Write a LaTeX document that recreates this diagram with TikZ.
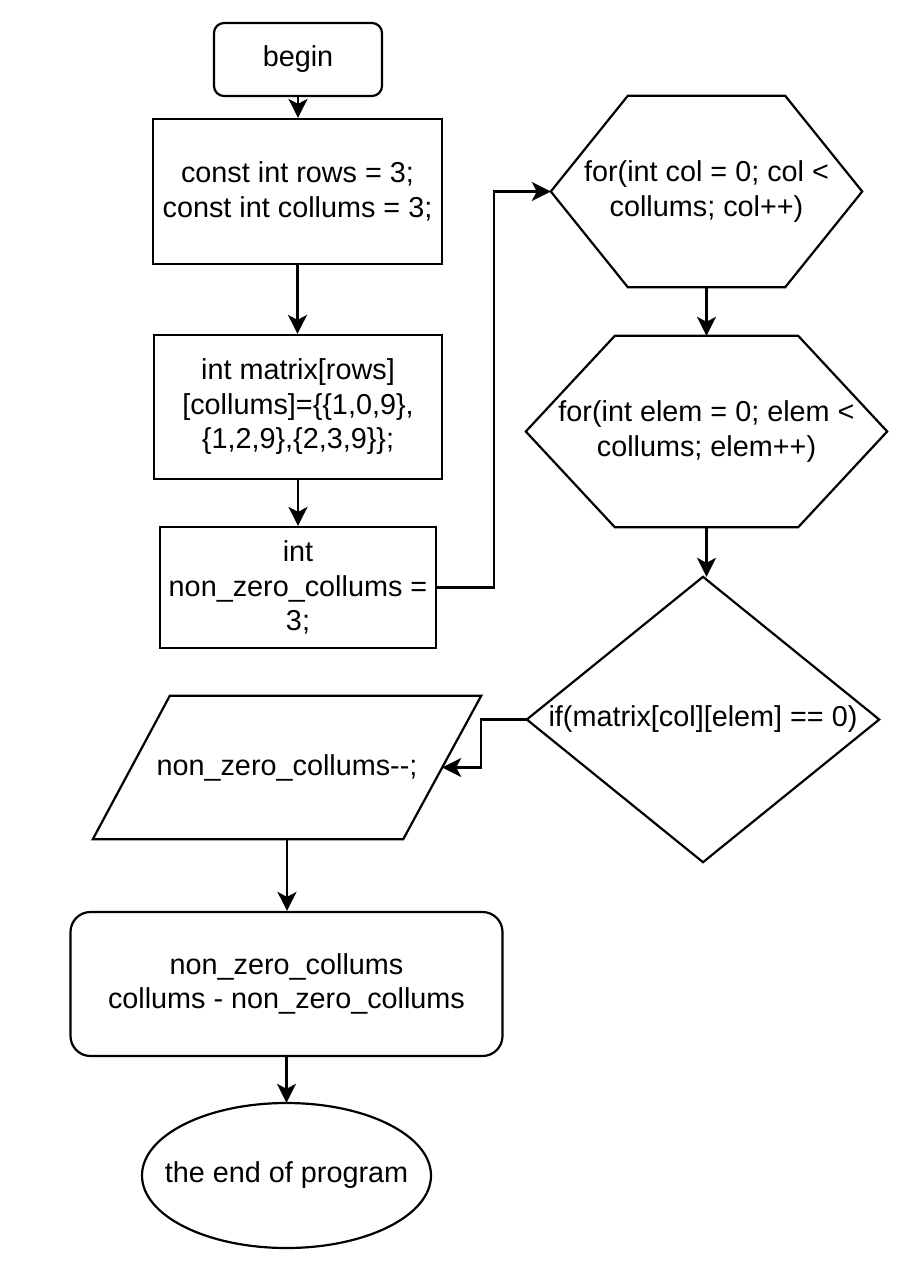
\documentclass[tikz,border=0pt]{standalone}
\usepackage{fontspec}
\setmainfont{Liberation Sans}
\usetikzlibrary{arrows.meta,shapes.geometric}
\begin{document}
\begin{tikzpicture}[x=1pt,y=-1pt,
  every node/.style={font=\fontsize{28.8}{34.5}\selectfont, align=center, inner sep=0pt},
  line/.style={line width=2.2pt, line join=miter},
  arr/.style={line width=2.2pt, -{Stealth[length=19pt,width=19pt,inset=5pt]}},
  box/.style={draw, line width=2.2pt, rectangle},
  rbox/.style={box, rounded corners=10pt},
  blank/.style={rectangle, draw=none}
]
\useasboundingbox (0,0) rectangle (912,1266);

% nodes
\node[rbox, minimum width=168pt, minimum height=73pt] (begin) at (298,59.5) {begin};
\node[box, minimum width=289pt, minimum height=145pt] (box1) at (297.5,191.5) {const int rows = 3;\\const int collums = 3;};
\node[box, minimum width=288pt, minimum height=144pt] (box2) at (298,407) {int matrix[rows]\\{}[collums]=\{\{1,0,9\},\\\{1,2,9\},\{2,3,9\}\};};
\node[box, minimum width=276pt, minimum height=121pt] (box3) at (298,587.5) {int\\non\_zero\_collums =\\3;};

\node[blank, minimum width=311pt, minimum height=191pt] (hex1) at (706.5,191.5) {for(int col = 0; col <\\collums; col++)};
\draw[line] (hex1.west) -- ([xshift=77pt]hex1.north west) -- ([xshift=-77pt]hex1.north east) -- (hex1.east) -- ([xshift=-77pt]hex1.south east) -- ([xshift=77pt]hex1.south west) -- cycle;

\node[blank, minimum width=361pt, minimum height=191pt] (hex2) at (706.5,431.5) {for(int elem = 0; elem <\\collums; elem++)};
\draw[line] (hex2.west) -- ([xshift=89pt]hex2.north west) -- ([xshift=-89pt]hex2.north east) -- (hex2.east) -- ([xshift=-89pt]hex2.south east) -- ([xshift=89pt]hex2.south west) -- cycle;

\node[blank, minimum width=352pt, minimum height=285pt] (dia) at (703,719.5) {if(matrix[col][elem] == 0)};
\draw[line] (dia.north) -- (dia.east) -- (dia.south) -- (dia.west) -- cycle;

\node[blank, minimum width=388pt, minimum height=143pt] (para) at (287,767.5) {non\_zero\_collums-{}-;};
\draw[line] ([xshift=77pt]para.north west) -- (para.north east) -- ([xshift=-78pt]para.south east) -- (para.south west) -- cycle;
\coordinate (para-r) at ([xshift=-39pt]para.east);

\node[box, rounded corners=20pt, minimum width=432pt, minimum height=144pt] (rr) at (286.5,984) {non\_zero\_collums\\collums - non\_zero\_collums};

\node[blank, minimum width=289pt, minimum height=145pt] (ell) at (286.5,1175.5) {the end of program};
\draw[line] (ell.center) ellipse [x radius=144.5, y radius=72.5];

% connectors
\draw[arr] (begin.south) -- (begin.south |- box1.north);
\draw[arr] (box1.south) -- (box1.south |- box2.north);
\draw[arr] (box2.south) -- (box2.south |- box3.north);
\draw[arr] (box3.east) -- ++(57,0) |- (hex1.west);
\draw[arr] (hex1.south) -- (hex2.north);
\draw[arr] (hex2.south) -- (hex2.south |- dia.north);
\draw[arr] (dia.west) -- ++(-46,0) |- (para-r);
\draw[arr] (para.south) -- (para.south |- rr.north);
\draw[arr] (rr.south) -- (ell.north);
\end{tikzpicture}
\end{document}
